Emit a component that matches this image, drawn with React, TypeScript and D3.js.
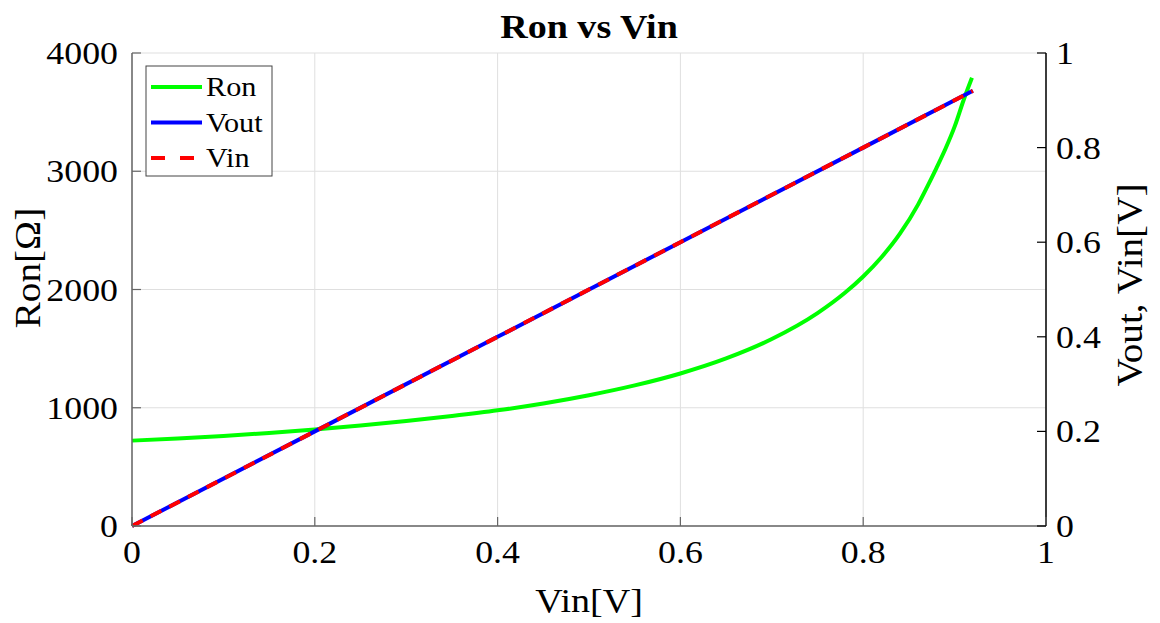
import React from "react";
import * as d3 from "d3";

const ronVin = [0, 0.05, 0.1, 0.15, 0.2, 0.25, 0.3, 0.35, 0.4, 0.45, 0.5, 0.55, 0.6, 0.65, 0.7, 0.75, 0.78, 0.8, 0.82, 0.84, 0.86, 0.87, 0.88, 0.89, 0.9, 0.91, 0.919];
const ronVals = [722, 739, 761, 787, 817, 850, 887, 930, 978, 1036, 1106, 1189, 1290, 1417, 1581, 1800, 1972, 2110, 2273, 2470, 2718, 2868, 3025, 3190, 3377, 3605, 3790];
const voutVin = [0, 0.2, 0.4, 0.6, 0.8, 0.92];
const voutVals = [0, 0.2, 0.4, 0.6, 0.8, 0.92];
const vinVals = [0, 0.2, 0.4, 0.6, 0.8, 0.92];

const xTicks = [0, 0.2, 0.4, 0.6, 0.8, 1];
const yLeftTicks = [0, 1000, 2000, 3000, 4000];
const yRightTicks = [0, 0.2, 0.4, 0.6, 0.8, 1];
const legendLabels = ["Ron", "Vout", "Vin"];

const W = 1160, H = 623;
const L = 132, R = 1046, T = 53, B = 526;
const FONT = "'Liberation Serif', 'Times New Roman', serif";
const SX = 1.12;

function T2({ x, y, size, anchor = "start", bold = false, rotate = 0, children }: any) {
  return (
    <text
      transform={`translate(${x},${y}) rotate(${rotate}) scale(${SX},1)`}
      fontFamily={FONT}
      fontSize={size}
      fontWeight={bold ? "bold" : "normal"}
      textAnchor={anchor}
      fill="#000"
    >
      {children}
    </text>
  );
}

export default function App() {
  const x = d3.scaleLinear().domain([0, 1]).range([L, R]);
  const yL = d3.scaleLinear().domain([0, 4000]).range([B, T]);
  const yR = d3.scaleLinear().domain([0, 1]).range([B, T]);

  const ronLine = d3.line<number>().x((_, i) => x(ronVin[i])).y((d) => yL(d)).curve(d3.curveMonotoneX);
  const voutLine = d3.line<number>().x((_, i) => x(voutVin[i])).y((d) => yR(d));
  const vinLine = d3.line<number>().x((_, i) => x(voutVin[i])).y((d) => yR(d));

  const gridColor = "#dfdfdf";
  const axGray = "#666";
  const legendColors = ["#00ff00", "#0000ff", "#ff0000"];

  return (
    <svg width={W} height={H} style={{ position: "absolute", left: 0, top: 0, background: "#fff" }}>
      <rect x={0} y={0} width={W} height={H} fill="#fff" />
      {xTicks.map((t) => (
        <line key={"gx" + t} x1={x(t)} x2={x(t)} y1={T} y2={B} stroke={gridColor} strokeWidth={1} />
      ))}
      {yLeftTicks.map((t) => (
        <line key={"gy" + t} x1={L} x2={R} y1={yL(t)} y2={yL(t)} stroke={gridColor} strokeWidth={1} />
      ))}

      <path d={ronLine(ronVals) || ""} fill="none" stroke="#00ff00" strokeWidth={4} />
      <path d={voutLine(voutVals) || ""} fill="none" stroke="#0000ff" strokeWidth={4} />
      <path d={vinLine(vinVals) || ""} fill="none" stroke="#ff0000" strokeWidth={4} strokeDasharray="12,9" />

      <line x1={L} x2={R} y1={B} y2={B} stroke={axGray} strokeWidth={1.5} />
      <line x1={L} x2={L} y1={T} y2={B} stroke={axGray} strokeWidth={1.5} />
      <line x1={R} x2={R} y1={T} y2={B} stroke="#000" strokeWidth={1.5} />
      {xTicks.map((t) => (
        <line key={"tx" + t} x1={x(t)} x2={x(t)} y1={B} y2={B - 9} stroke={axGray} strokeWidth={1.2} />
      ))}
      {yLeftTicks.map((t) => (
        <line key={"tl" + t} x1={L} x2={L + 9} y1={yL(t)} y2={yL(t)} stroke={axGray} strokeWidth={1.2} />
      ))}
      {yRightTicks.map((t) => (
        <line key={"tr" + t} x1={R} x2={R - 9} y1={yR(t)} y2={yR(t)} stroke="#000" strokeWidth={1.2} />
      ))}

      {xTicks.map((t) => (
        <T2 key={"lx" + t} x={x(t)} y={563} size={32} anchor="middle">{d3.format("~g")(t)}</T2>
      ))}
      {yLeftTicks.map((t) => (
        <T2 key={"ll" + t} x={118} y={yL(t) + 11} size={32} anchor="end">{String(t)}</T2>
      ))}
      {yRightTicks.map((t) => (
        <T2 key={"lr" + t} x={1056} y={yR(t) + 11} size={32} anchor="start">{d3.format("~g")(t)}</T2>
      ))}

      <T2 x={589} y={38} size={34} anchor="middle" bold>Ron vs Vin</T2>
      <T2 x={589} y={612} size={34} anchor="middle">Vin[V]</T2>
      <T2 x={40} y={268} size={35} anchor="middle" rotate={-90}>Ron[Ω]</T2>
      <T2 x={1142} y={285} size={35} anchor="middle" rotate={-90}>Vout, Vin[V]</T2>

      <rect x={146} y={66} width={126} height={110} fill="#fff" stroke="#444" strokeWidth={1} />
      {legendLabels.map((lab, i) => {
        const cy = 87 + i * 35.5;
        return (
          <g key={lab}>
            <line x1={151} x2={202} y1={cy} y2={cy} stroke={legendColors[i]} strokeWidth={4}
              strokeDasharray={i === 2 ? "14,15" : undefined} />
            <T2 x={206} y={cy + 9} size={27} anchor="start">{lab}</T2>
          </g>
        );
      })}
    </svg>
  );
}
